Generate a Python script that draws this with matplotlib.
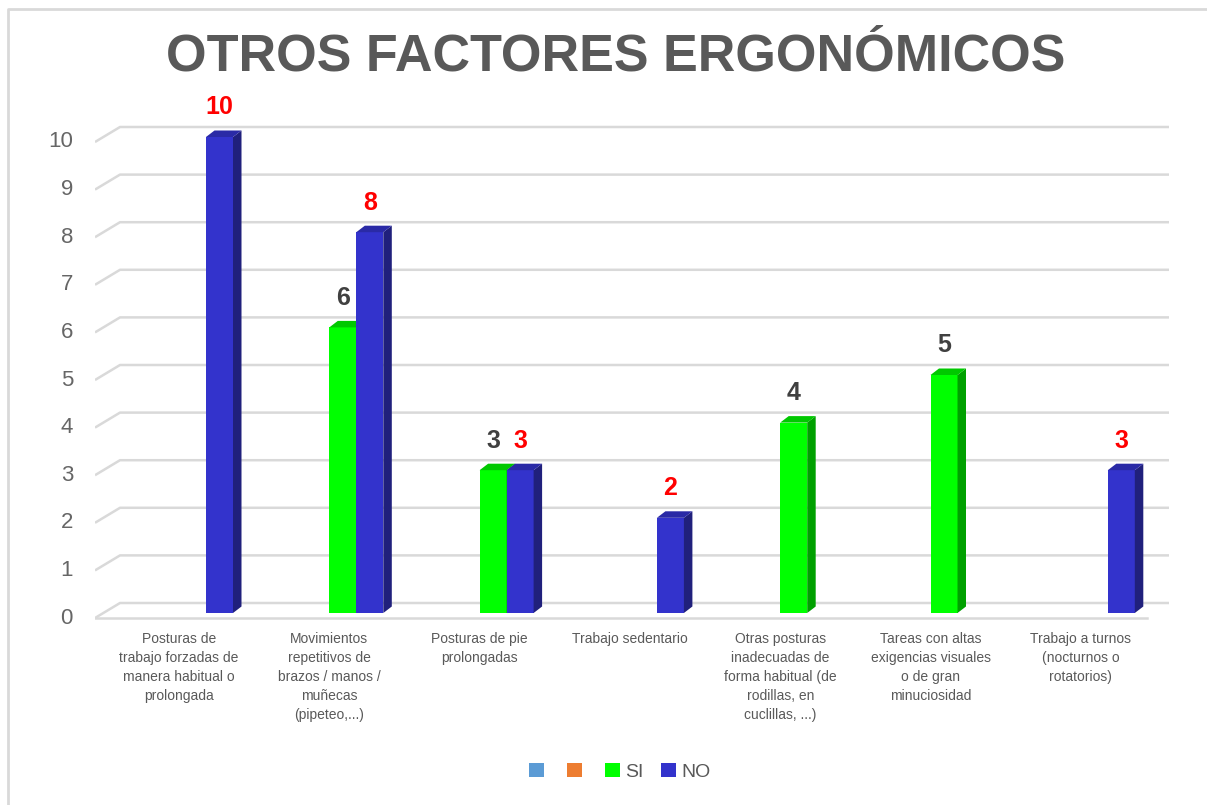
import matplotlib
matplotlib.use("Agg")
import matplotlib.pyplot as plt
from matplotlib.patches import Polygon, Rectangle
from matplotlib.lines import Line2D
import numpy as np

title = "OTROS FACTORES ERGONÓMICOS"
categories = [
    "Posturas de\ntrabajo forzadas de\nmanera habitual o\nprolongada",
    "Movimientos\nrepetitivos de\nbrazos / manos /\nmuñecas\n(pipeteo,...)",
    "Posturas de pie\nprolongadas",
    "Trabajo sedentario",
    "Otras posturas\ninadecuadas de\nforma habitual (de\nrodillas, en\ncuclillas, ...)",
    "Tareas con altas\nexigencias visuales\no de gran\nminuciosidad",
    "Trabajo a turnos\n(nocturnos o\nrotatorios)",
]
si_values = [None, 6, 3, None, 4, 5, None]
no_values = [10, 8, 3, 2, None, None, 3]
series_labels = ["", "", "SI", "NO"]
y_ticks = list(range(0, 11))

W, H = 1207, 805
fig = plt.figure(figsize=(W / 100, H / 100), dpi=100)
fig.patch.set_facecolor("white")

# axes box in pixels, bar plane: group center 0 -> px 179, 150.3 px per category, 47.6 px per unit
px_l, px_r, px_t, px_b = 95, 1180, 100, 625
ax = fig.add_axes([px_l / W, 1 - px_b / H, (px_r - px_l) / W, (px_b - px_t) / H])
ax.set_xlim((px_l - 179) / 150.3, (px_r - 179) / 150.3)
ax.set_ylim((613 - px_b) / 47.6, (613 - px_t) / 47.6)
ax.axis("off")

ux = 1 / 150.3
uy = 1 / 47.6
grid_c = "#D9D9D9"
# pseudo 3d grid: front end, back plane
fx0, bx0, bx1, fx1 = (95 - 179) * ux, (120 - 179) * ux, (1169 - 179) * ux, (1147 - 179) * ux
f_off, b_off = -5 * uy, 10 * uy
for k in y_ticks:
    ax.plot([fx0, bx0, bx1], [k + f_off, k + b_off, k + b_off], color=grid_c, lw=1.8,
            solid_capstyle="butt", zorder=1)
    ax.text((73 - 179) * ux, k + f_off, str(k), ha="right", va="center", fontsize=16,
            color="#666666", family="Liberation Sans")
ax.plot([fx0, fx1], [f_off, f_off], color=grid_c, lw=1.8, zorder=1)

bw = 27 * ux
dx, dy = 8.5 * ux, 6.5 * uy


def bar3d(left, val, front, side, top):
    ax.add_patch(Rectangle((left, 0), bw, val, facecolor=front, edgecolor="none", zorder=3))
    ax.add_patch(Polygon([(left + bw, 0), (left + bw + dx, dy), (left + bw + dx, val + dy),
                          (left + bw, val)], facecolor=side, edgecolor="none", zorder=3))
    ax.add_patch(Polygon([(left, val), (left + dx, val + dy), (left + bw + dx, val + dy),
                          (left + bw, val)], facecolor=top, edgecolor="none", zorder=3))


for i in range(len(categories)):
    s, n = si_values[i], no_values[i]
    if s is not None:
        bar3d(i, s, "#00FF00", "#00A000", "#00C800")
        ax.text(i + bw / 2, s + 0.62, str(s), ha="center", va="center", fontsize=18,
                fontweight="bold", color="#404040", family="Liberation Sans", zorder=5)
    if n is not None:
        bar3d(i + bw, n, "#3333CC", "#20207C", "#2A2AA6")
        ax.text(i + 1.5 * bw, n + 0.62, str(n), ha="center", va="center", fontsize=18,
                fontweight="bold", color="#FF0000", family="Liberation Sans", zorder=5)
    ax.text(i, (613 - 632) * uy, categories[i], ha="center", va="top", fontsize=10,
            color="#595959", family="Liberation Sans", linespacing=1.45)

fig.text(616 / W, 1 - 57 / H, title, ha="center", va="center", fontsize=37.5,
         fontweight="bold", color="#595959", family="Liberation Sans")

handles = [Rectangle((0, 0), 1, 1, facecolor=c, edgecolor="none")
           for c in ["#5B9BD5", "#ED7D31", "#00FF00", "#3333CC"]]
leg = fig.legend(handles, series_labels, loc="center", bbox_to_anchor=(620 / W, 1 - 772 / H),
                 ncol=4, frameon=False, handlelength=0.75, handleheight=0.75,
                 handletextpad=0.3, columnspacing=0.9,
                 prop={"family": "Liberation Sans", "size": 14})
for t in leg.get_texts():
    t.set_color("#595959")

fig.add_artist(Line2D([8 / W, 8 / W, 1], [0, 1 - 9 / H, 1 - 9 / H], color=grid_c, lw=2))

fig.savefig("out.png", dpi=100)
plt.close(fig)
